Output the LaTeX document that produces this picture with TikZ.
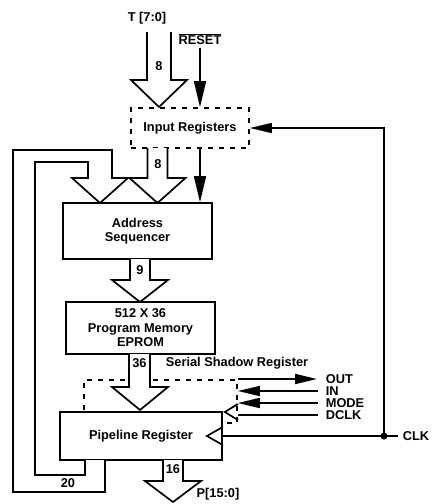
\documentclass[tikz,border=0pt]{standalone}
\usepackage{fontspec}
\setmainfont{Liberation Sans}
\usetikzlibrary{arrows.meta,calc}
\begin{document}
\begin{tikzpicture}[x=1pt,y=-1pt,line width=1.7pt,line join=miter,
  every node/.style={font=\fontsize{12.8}{14.5}\selectfont\bfseries, inner sep=0pt},
  box/.style={draw, fill=white, align=center},
  dbox/.style={draw, dash pattern=on 5pt off 6pt},
  bus/.style={draw, fill=white},
  tip/.style={-{Triangle[length=22pt,width=10pt]}},
  tipl/.style={-{Triangle[length=26pt,width=12pt]}},
  lbl/.style={anchor=west}]
\useasboundingbox (0,0) rectangle (437,504);

% dashed registers
\node[dbox, minimum width=153pt, minimum height=43pt] (ssr) at (160.5,401.5) {};
\node[dbox, minimum width=118pt, minimum height=40pt] (ir) at (190,128) {Input Registers};

% main boxes
\node[box, minimum width=149pt, minimum height=56pt] (as) at (137.5,231) {Address\\Sequencer};
\node[box, minimum width=149pt, minimum height=52pt] (pm) at (140.5,328) {512 X 36\\Program Memory\\EPROM};
\node[box, minimum width=162pt, minimum height=48pt] (pr) at (141,436) {Pipeline Register};

% feedback bus
\draw[bus] (105,460) -- (105,492) -- (13,492) -- (13,150) -- (112,150) -- (112,178)
  -- (128,178) -- (100,203) -- (72,178) -- (88,178) -- (88,162) -- (35,162)
  -- (35,475) -- (85,475) -- (85,460);
\node at (68,483) {20};

% T input
\node (t) at (147,18) {T [7:0]};
\draw[bus] (147,32) -- (147,80) -- (131,80) -- (159,107) -- (187,80) -- (171,80) -- (171,32);
\node at (159,66) {8};

% RESET
\node (reset) at (200,39) {$\overline{\hbox{\bfseries RESET}}$};
\draw[tipl] ([yshift=-3pt]reset.south) -- (reset.south |- ir.north);
\draw[tipl] (reset |- ir.south) -- (reset |- as.north);

% 8 from input registers
\draw[bus] (147.5,148) -- (147.5,178) -- (129.5,178) -- (157.5,203) -- (185.5,178) -- (167.5,178) -- (167.5,148);
\node at (158,164) {8};

% 9
\draw[bus] (130,259) -- (130,280) -- (112,280) -- (140,302) -- (168,280) -- (150,280) -- (150,259);
\node at (140,270) {9};

% 36
\draw[bus] (129,354) -- (129,387) -- (112,387) -- (140,410) -- (168,387) -- (150,387) -- (150,354);
\node at (139.5,363) {36};
\node at (237,363) {Serial Shadow Register};

% 16
\draw[bus] (163,460) -- (163,481) -- (145,481) -- (173,502) -- (201,481) -- (183,481) -- (183,460);
\node at (173,469) {16};
\node at (218,494) {P[15:0]};

% clock triangles
\draw ([yshift=9pt]pr.east) -- ([xshift=-16pt]pr.east) -- ([yshift=-9pt]pr.east);
\coordinate (dc) at (ssr.east |- 0,412);
\draw ([yshift=8pt]dc) -- ([xshift=-13pt]dc) -- ([yshift=-8pt]dc);

% shadow register signals
\node[lbl] (out) at (325,379) {OUT};
\node[lbl] (in) at (325,391) {IN};
\node[lbl] (mode) at (325,403) {MODE};
\node[lbl] (dclk) at (325,415) {DCLK};
\draw[tip] (out.west -| ssr.east) -- ([xshift=-8pt]out.west);
\draw[tip] ([xshift=-7pt]in.west) -- (in.west -| ssr.east);
\draw[tip] ([xshift=-7pt]mode.west) -- (mode.west -| ssr.east);
\draw ([xshift=-7pt]dclk.west) -- (dclk.west -| ssr.east);

% CLK
\coordinate (dot) at (384,436);
\node[lbl] (clk) at (402,436) {CLK};
\draw (pr.east) -- (dot) -- ([xshift=-4pt]clk.west);
\fill (dot) circle (3.5pt);
\draw[tip] (dot) |- (ir.east);
\end{tikzpicture}
\end{document}
